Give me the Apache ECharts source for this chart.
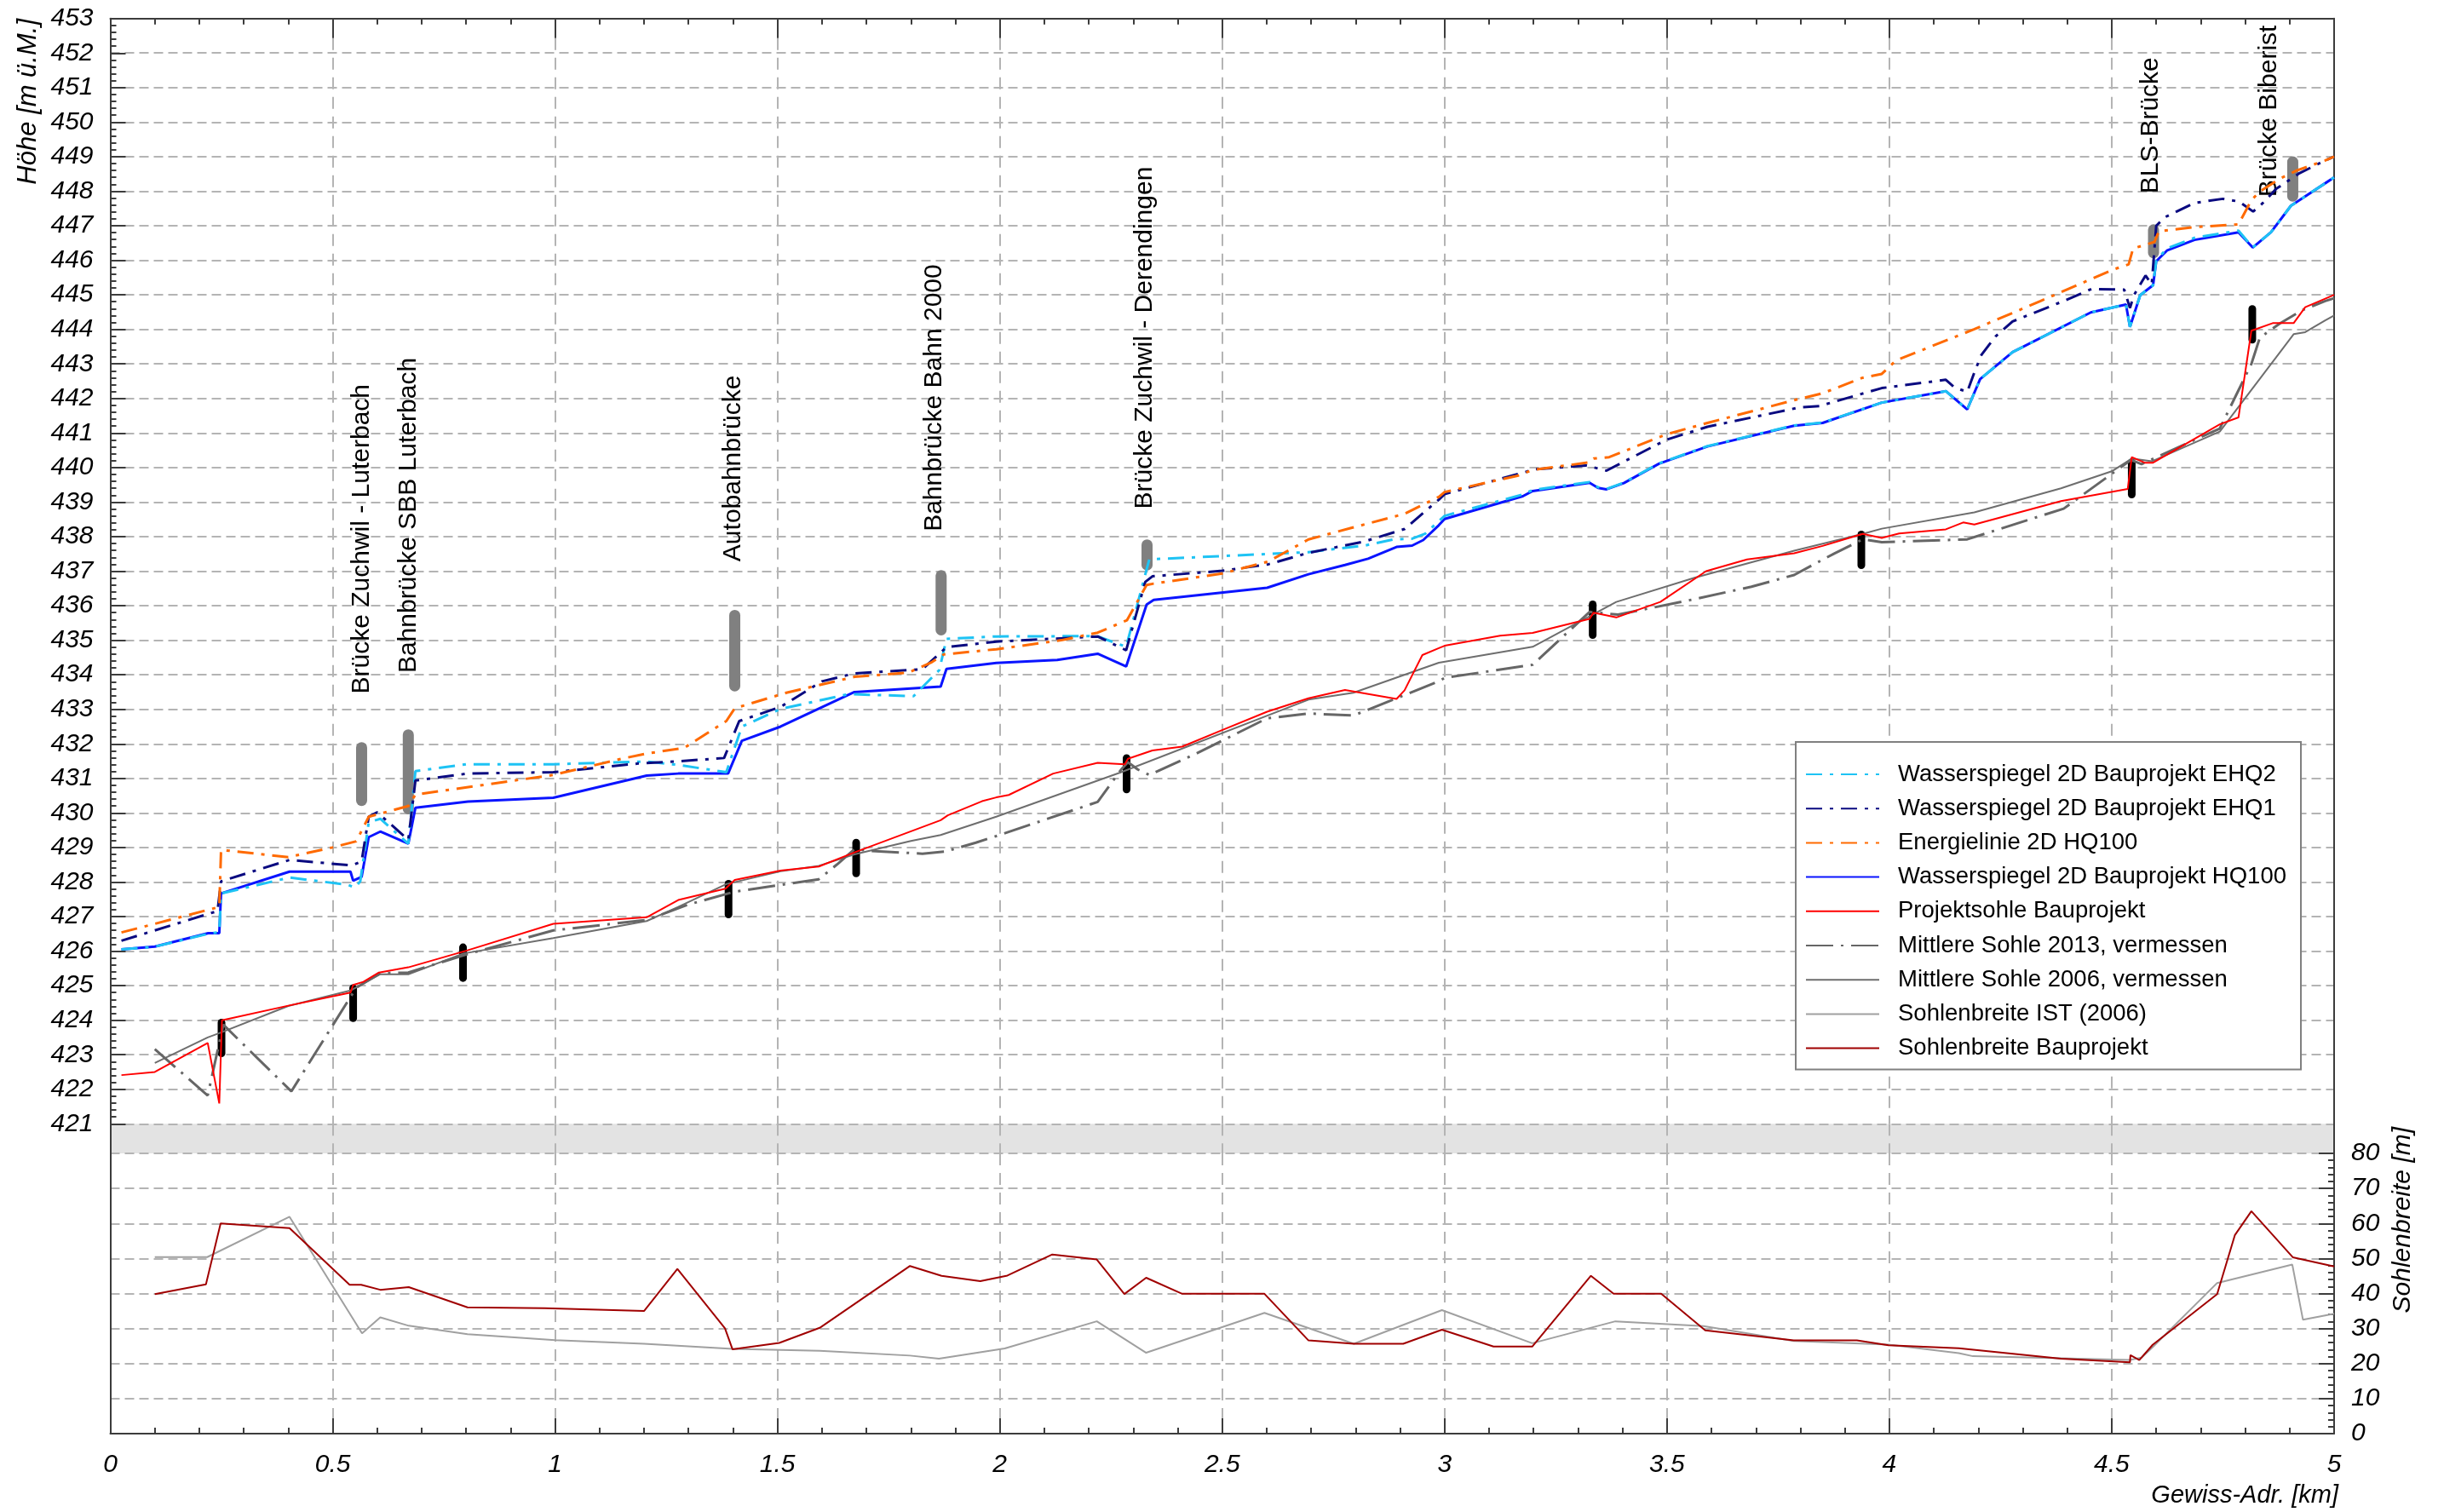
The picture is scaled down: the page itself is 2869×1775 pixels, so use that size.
<!DOCTYPE html>
<html>
<head>
<meta charset="utf-8">
<script src="https://cdn.jsdelivr.net/npm/echarts@6/dist/echarts.min.js"></script>
<style>
html,body{margin:0;padding:0;background:#fff;}
#chart{width:2869px;height:1775px;}
</style>
</head>
<body>
<div id="chart"></div>
<script>
// ---------------- DATA (km, value) ----------------
const wsEHQ2 = [[0.025,426.05],[0.10,426.13],[0.22,426.5],[0.245,426.55],[0.249,427.67],[0.403,428.13],[0.534,427.92],[0.55,427.84],[0.562,428.02],[0.581,429.73],[0.607,429.83],[0.670,429.11],[0.686,431.21],[0.80,431.41],[0.996,431.41],[1.206,431.49],[1.277,431.39],[1.385,431.18],[1.42,432.50],[1.507,433.01],[1.66,433.44],[1.806,433.38],[1.864,434.14],[1.88,435.04],[1.992,435.11],[2.218,435.12],[2.284,434.81],[2.336,437.34],[2.623,437.51],[2.694,437.55],[2.82,437.74],[2.885,437.92],[2.927,437.94],[2.956,438.08],[2.987,438.45],[3.0,438.6],[3.176,439.22],[3.198,439.35],[3.326,439.58],[3.345,439.43],[3.364,439.38],[3.403,439.56],[3.482,440.12],[3.591,440.62],[3.786,441.22],[3.85,441.30],[3.983,441.88],[4.127,442.21],[4.175,441.68],[4.204,442.56],[4.277,443.34],[4.453,444.49],[4.532,444.72],[4.541,444.07],[4.564,444.99],[4.593,445.28],[4.600,446.0],[4.625,446.35],[4.686,446.65],[4.785,446.86],[4.817,446.37],[4.858,446.81],[4.903,447.58],[4.922,447.74],[4.98,448.23],[5.0,448.4]];
const wsEHQ1 = [[0.025,426.30],[0.241,427.16],[0.249,428.02],[0.403,428.64],[0.543,428.48],[0.565,428.60],[0.581,429.89],[0.60,430.02],[0.670,429.22],[0.686,430.94],[0.804,431.14],[0.996,431.18],[1.187,431.43],[1.27,431.49],[1.38,431.59],[1.414,432.66],[1.507,433.07],[1.60,433.81],[1.673,434.04],[1.826,434.16],[1.88,434.80],[1.992,434.96],[2.22,435.11],[2.284,434.71],[2.327,436.69],[2.343,436.85],[2.5,437.01],[2.604,437.20],[2.694,437.53],[2.82,437.86],[2.91,438.22],[2.987,439.07],[3.0,439.23],[3.204,439.95],[3.318,440.06],[3.364,439.91],[3.498,440.80],[3.591,441.18],[3.798,441.74],[3.843,441.78],[3.983,442.30],[4.127,442.54],[4.146,442.32],[4.175,442.19],[4.194,442.85],[4.207,443.26],[4.239,443.80],[4.277,444.23],[4.392,444.82],[4.455,445.17],[4.528,445.15],[4.541,444.62],[4.55,444.99],[4.576,445.56],[4.59,445.3],[4.6,447.0],[4.62,447.25],[4.686,447.66],[4.75,447.78],[4.786,447.70],[4.818,447.41],[4.84,447.66],[4.87,448.07],[4.922,448.52],[4.98,448.89],[5.0,449.0]];
const energieHQ100 = [[0.025,426.54],[0.10,426.79],[0.245,427.28],[0.249,428.93],[0.40,428.72],[0.499,429.0],[0.553,429.18],[0.581,429.89],[0.670,430.20],[0.686,430.53],[0.996,431.10],[1.143,431.55],[1.206,431.72],[1.29,431.88],[1.385,432.66],[1.404,433.03],[1.52,433.48],[1.673,433.94],[1.794,434.06],[1.845,434.35],[1.874,434.59],[1.992,434.74],[2.138,435.0],[2.22,435.22],[2.286,435.58],[2.33,436.60],[2.346,436.64],[2.5,436.93],[2.604,437.28],[2.694,437.92],[2.79,438.25],[2.91,438.66],[2.987,439.15],[3.0,439.29],[3.166,439.77],[3.198,439.93],[3.326,440.15],[3.335,440.26],[3.37,440.30],[3.498,440.96],[3.591,441.29],[3.786,441.95],[3.85,442.15],[3.94,442.60],[3.983,442.71],[4.015,443.10],[4.19,444.0],[4.34,444.82],[4.503,445.73],[4.538,445.88],[4.548,446.34],[4.596,446.53],[4.606,446.84],[4.686,446.96],[4.785,447.04],[4.814,447.74],[4.833,447.99],[4.878,448.36],[4.916,448.60],[4.98,448.89],[5.0,449.0]];
const wsHQ100 = [[0.025,426.05],[0.10,426.13],[0.22,426.52],[0.245,426.52],[0.249,427.67],[0.403,428.30],[0.54,428.30],[0.546,428.04],[0.565,428.15],[0.581,429.30],[0.607,429.46],[0.670,429.11],[0.686,430.15],[0.804,430.33],[0.996,430.44],[1.206,431.08],[1.277,431.14],[1.389,431.14],[1.42,432.09],[1.507,432.50],[1.673,433.50],[1.867,433.66],[1.880,434.17],[1.992,434.34],[2.129,434.43],[2.22,434.61],[2.284,434.24],[2.33,436.03],[2.346,436.17],[2.601,436.52],[2.694,436.91],[2.776,437.18],[2.828,437.36],[2.892,437.70],[2.927,437.74],[2.952,437.90],[2.987,438.33],[3.0,438.51],[3.176,439.17],[3.198,439.32],[3.326,439.56],[3.345,439.41],[3.364,439.37],[3.403,439.55],[3.482,440.11],[3.591,440.61],[3.786,441.21],[3.85,441.29],[3.983,441.88],[4.127,442.21],[4.175,441.68],[4.204,442.56],[4.277,443.34],[4.453,444.49],[4.532,444.72],[4.541,444.07],[4.564,444.99],[4.593,445.28],[4.600,445.97],[4.625,446.29],[4.686,446.59],[4.785,446.81],[4.817,446.37],[4.858,446.81],[4.903,447.58],[4.922,447.74],[4.98,448.23],[5.0,448.4]];
const projektsohle = [[0.025,422.41],[0.10,422.50],[0.219,423.34],[0.245,421.59],[0.251,424.0],[0.40,424.42],[0.54,424.80],[0.546,425.02],[0.569,425.11],[0.604,425.38],[0.670,425.53],[0.80,426.01],[0.996,426.79],[1.206,426.98],[1.277,427.48],[1.383,427.81],[1.404,428.06],[1.507,428.33],[1.593,428.45],[1.676,428.87],[1.867,429.79],[1.883,429.93],[1.96,430.34],[1.992,430.45],[2.02,430.52],[2.12,431.14],[2.22,431.45],[2.281,431.41],[2.288,431.57],[2.343,431.81],[2.41,431.92],[2.502,432.41],[2.601,432.93],[2.694,433.32],[2.776,433.56],[2.892,433.30],[2.91,433.55],[2.95,434.57],[2.987,434.77],[3.0,434.84],[3.125,435.13],[3.198,435.21],[3.326,435.62],[3.335,435.80],[3.386,435.66],[3.485,436.11],[3.588,437.0],[3.68,437.34],[3.786,437.52],[3.85,437.73],[3.94,438.08],[3.983,437.96],[4.022,438.09],[4.127,438.21],[4.166,438.41],[4.191,438.35],[4.386,439.03],[4.536,439.38],[4.545,440.30],[4.574,440.14],[4.593,440.14],[4.743,441.25],[4.785,441.45],[4.814,443.96],[4.862,444.18],[4.909,444.18],[4.935,444.64],[4.98,444.89],[5.0,445.0]];
const sohle2013 = [[0.10,423.16],[0.219,421.82],[0.254,423.87],[0.407,421.94],[0.553,424.94],[0.607,425.36],[0.670,425.38],[0.80,425.9],[0.996,426.6],[1.206,426.9],[1.30,427.35],[1.404,427.72],[1.593,428.08],[1.634,428.51],[1.673,428.95],[1.71,428.9],[1.826,428.82],[1.876,428.88],[1.946,429.14],[1.992,429.33],[2.22,430.32],[2.273,431.26],[2.288,431.47],[2.31,431.26],[2.336,431.10],[2.44,431.71],[2.601,432.74],[2.694,432.88],[2.795,432.82],[2.892,433.32],[2.987,433.81],[3.0,433.91],[3.198,434.29],[3.326,435.82],[3.39,435.74],[3.562,436.19],[3.69,436.55],[3.786,436.89],[3.876,437.51],[3.94,437.92],[3.983,437.84],[4.175,437.92],[4.392,438.81],[4.495,439.77],[4.543,440.22],[4.567,440.10],[4.743,441.13],[4.814,443.0],[4.833,443.76],[4.878,444.17],[4.929,444.56],[4.98,444.82],[5.0,444.9]];
const sohle2006 = [[0.10,422.76],[0.219,423.50],[0.25,423.65],[0.40,424.41],[0.54,424.86],[0.607,425.33],[0.670,425.33],[0.794,425.93],[0.996,426.38],[1.206,426.87],[1.277,427.28],[1.385,427.94],[1.507,428.31],[1.593,428.47],[1.673,428.80],[1.80,429.19],[1.867,429.36],[1.992,429.89],[2.273,431.18],[2.694,433.28],[2.795,433.48],[2.987,434.35],[3.198,434.81],[3.386,436.11],[3.562,436.81],[3.786,437.59],[3.94,438.08],[3.983,438.23],[4.191,438.70],[4.386,439.40],[4.50,439.89],[4.545,440.26],[4.59,440.18],[4.743,441.04],[4.909,443.86],[4.935,443.92],[4.98,444.26],[5.0,444.4]];
const breiteIST = [[0.10,50.4],[0.218,50.4],[0.403,61.9],[0.566,28.65],[0.607,33.2],[0.671,30.8],[0.803,28.4],[1.0,26.7],[1.20,25.65],[1.399,24.2],[1.595,23.65],[1.798,22.28],[1.863,21.4],[2.011,24.3],[2.218,32.06],[2.329,23.09],[2.595,34.47],[2.796,25.65],[2.994,35.27],[3.197,25.81],[3.384,32.06],[3.582,30.7],[3.785,26.45],[3.998,25.41],[4.156,23.0],[4.188,22.1],[4.541,21.05],[4.567,21.7],[4.592,24.7],[4.737,43.0],[4.906,48.25],[4.93,32.5],[5.0,34.2]];
const breiteProjekt = [[0.10,39.8],[0.215,42.6],[0.248,60.0],[0.403,58.65],[0.538,42.5],[0.564,42.5],[0.607,41.06],[0.671,41.83],[0.803,36.06],[0.977,35.8],[1.20,35.0],[1.275,47.05],[1.382,30.06],[1.399,24.05],[1.504,25.9],[1.595,30.2],[1.798,47.86],[1.869,45.05],[1.956,43.53],[2.017,45.13],[2.118,51.14],[2.218,49.70],[2.280,39.84],[2.329,44.49],[2.410,39.92],[2.595,39.92],[2.694,26.61],[2.796,25.65],[2.907,25.65],[2.994,29.66],[3.11,24.85],[3.197,24.85],[3.329,45.05],[3.38,39.92],[3.487,39.92],[3.586,29.5],[3.785,26.61],[3.927,26.61],[3.998,25.25],[4.156,24.4],[4.386,21.4],[4.541,20.35],[4.542,22.4],[4.562,21.0],[4.592,25.35],[4.737,39.8],[4.777,56.7],[4.814,63.5],[4.907,50.35],[5.0,47.7]];

// bridges (grey bars) and labels
const bridgeNames = ['Brücke Zuchwil - Luterbach','Bahnbrücke SBB Luterbach','Autobahnbrücke','Bahnbrücke Bahn 2000','Brücke Zuchwil - Derendingen','BLS-Brücke','Brücke Biberist'];
const bridgeKm = [0.565, 0.670, 1.404, 1.868, 2.331, 4.594, 4.907];
const bridgeBottom = [430.36, 430.12, 433.68, 435.30, 437.18, 446.22, 447.86];
const bridgeTop = [431.89, 432.26, 435.72, 436.87, 437.76, 446.88, 448.85];
const bridgeLabelKm = [0.566, 0.670, 1.400, 1.853, 2.325, 4.588, 4.853];
const bridgeLabelAt = [433.45, 434.05, 437.28, 438.15, 438.80, 447.93, 447.83];

// sills (black bars)
const sillKm = [0.25, 0.546, 0.793, 1.39, 1.677, 2.285, 3.333, 3.937, 4.545, 4.816];
const sillBottom = [423.04, 424.06, 425.22, 427.06, 428.25, 430.68, 435.15, 437.17, 439.22, 443.70];
const sillTop = [423.93, 424.93, 426.11, 427.95, 429.14, 431.59, 436.04, 438.06, 440.15, 444.59];

// axis ranges
const kmRange = [0, 5];
const hoeheRange = [421, 453];
const breiteRange = [0, 80];

// ---------------- CHART ----------------
const chart = echarts.init(document.getElementById('chart'), null, {renderer:'canvas'});
const AX = '#3c3c3c';
const hDash = {color:'#b4b4b4', width:2, type:[11,6]};
const vDash = {color:'#b4b4b4', width:2, type:[14,9]};
const labelFont = {fontFamily:'"Liberation Sans", Arial, sans-serif', fontStyle:'italic', fontSize:30, color:'#000'};
const L = 129.5, W = 2610.5;

function barRender(color, width){
  return function(params, api){
    const a = api.coord([api.value(0), api.value(1)]);
    const b = api.coord([api.value(0), api.value(2)]);
    return {type:'line', shape:{x1:a[0], y1:a[1], x2:b[0], y2:b[1]}, style:{stroke:color, lineWidth:width, lineCap:'round'}};
  };
}

const option = {
  animation:false,
  backgroundColor:'#fff',
  grid:[
    {left:L, width:W, top:21.7, height:1297.6, show:false},
    {left:L, width:W, top:1319.3, height:34.7, show:true, backgroundColor:'#e3e3e3', borderWidth:0},
    {left:L, width:W, top:1354, height:329, show:false}
  ],
  xAxis:[
    {gridIndex:0, type:'value', min:kmRange[0], max:kmRange[1], interval:0.5, position:'top',
     axisLine:{show:true, onZero:false, lineStyle:{color:AX, width:2}},
     axisTick:{show:true, inside:true, length:23, lineStyle:{color:AX, width:2}},
     minorTick:{show:true, splitNumber:5, length:7, lineStyle:{color:AX, width:2}},
     axisLabel:{show:false}, splitLine:{show:true, lineStyle:vDash}},
    {gridIndex:1, type:'value', min:kmRange[0], max:kmRange[1], interval:0.5,
     axisLine:{show:false}, axisTick:{show:false}, axisLabel:{show:false}, splitLine:{show:true, lineStyle:vDash}},
    {gridIndex:2, type:'value', min:kmRange[0], max:kmRange[1], interval:0.5, position:'bottom',
     axisLine:{show:true, onZero:false, lineStyle:{color:AX, width:2}},
     axisTick:{show:true, inside:true, length:18, lineStyle:{color:AX, width:2}},
     minorTick:{show:true, splitNumber:5, length:7, lineStyle:{color:AX, width:2}},
     axisLabel:Object.assign({margin:22}, labelFont), splitLine:{show:true, lineStyle:vDash}}
  ],
  yAxis:[
    {gridIndex:0, type:'value', position:'left', min:hoeheRange[0], max:hoeheRange[1], interval:1,
     axisLine:{show:true, onZero:false, lineStyle:{color:AX, width:2}},
     axisTick:{show:true, inside:true, length:18, lineStyle:{color:AX, width:2}},
     minorTick:{show:true, splitNumber:5, length:7, lineStyle:{color:AX, width:2}},
     axisLabel:Object.assign({margin:20}, labelFont), splitLine:{show:true, lineStyle:hDash}},
    {gridIndex:0, type:'value', position:'right', min:hoeheRange[0], max:hoeheRange[1],
     axisLine:{show:true, onZero:false, lineStyle:{color:AX, width:2}}, axisTick:{show:false}, axisLabel:{show:false}, splitLine:{show:false}},
    {gridIndex:1, type:'value', position:'left', min:0, max:1,
     axisLine:{show:true, onZero:false, lineStyle:{color:AX, width:2}}, axisTick:{show:false}, axisLabel:{show:false}, splitLine:{show:false}},
    {gridIndex:1, type:'value', position:'right', min:0, max:1,
     axisLine:{show:true, onZero:false, lineStyle:{color:AX, width:2}}, axisTick:{show:false}, axisLabel:{show:false}, splitLine:{show:false}},
    {gridIndex:2, type:'value', position:'left', min:breiteRange[0], max:breiteRange[1],
     axisLine:{show:true, onZero:false, lineStyle:{color:AX, width:2}}, axisTick:{show:false}, axisLabel:{show:false}, splitLine:{show:false}},
    {gridIndex:2, type:'value', position:'right', min:breiteRange[0], max:breiteRange[1], interval:10,
     axisLine:{show:true, onZero:false, lineStyle:{color:AX, width:2}},
     axisTick:{show:true, inside:true, length:18, lineStyle:{color:AX, width:2}},
     minorTick:{show:true, splitNumber:5, length:7, lineStyle:{color:AX, width:2}},
     axisLabel:Object.assign({margin:20}, labelFont), splitLine:{show:true, lineStyle:hDash}}
  ],
  legend:{
    orient:'vertical', left:2108, top:871,
    padding:[21,17,8,11],
    backgroundColor:'#fff', borderColor:'#808080', borderWidth:2,
    itemWidth:86, itemHeight:20, itemGap:6.2,
    itemStyle:{opacity:0},
    lineStyle:{opacity:1},
    textStyle:{fontFamily:'"Liberation Sans", Arial, sans-serif', fontSize:27.5, lineHeight:34, color:'#000', padding:[0,0,0,17]},
    data:['Wasserspiegel 2D Bauprojekt EHQ2','Wasserspiegel 2D Bauprojekt EHQ1','Energielinie 2D HQ100','Wasserspiegel 2D Bauprojekt HQ100','Projektsohle Bauprojekt','Mittlere Sohle 2013, vermessen','Mittlere Sohle 2006, vermessen','Sohlenbreite IST (2006)','Sohlenbreite Bauprojekt']
  },
  graphic:[
    {type:'text', x:33, y:22, rotation:Math.PI/2, z:10,
     style:{text:'Höhe [m ü.M.]', fill:'#000', font:'italic 31px "Liberation Sans", Arial, sans-serif', align:'right', verticalAlign:'middle', textAlign:'right', textVerticalAlign:'middle'}},
    {type:'text', x:2821, y:1323, rotation:Math.PI/2, z:10,
     style:{text:'Sohlenbreite [m]', fill:'#000', font:'italic 30px "Liberation Sans", Arial, sans-serif', align:'right', verticalAlign:'middle', textAlign:'right', textVerticalAlign:'middle'}},
    {type:'text', x:2745, y:1756, z:10,
     style:{text:'Gewiss-Adr. [km]', fill:'#000', font:'italic 29px "Liberation Sans", Arial, sans-serif', align:'right', verticalAlign:'middle', textAlign:'right', textVerticalAlign:'middle'}}
  ],
  series:[
    {type:'custom', name:'bridges', xAxisIndex:0, yAxisIndex:0, z:1, silent:true,
     data:bridgeKm.map((k,i)=>[k, bridgeBottom[i], bridgeTop[i]]), renderItem:barRender('#808080',13)},
    {type:'custom', name:'sills', xAxisIndex:0, yAxisIndex:0, z:1, silent:true,
     data:sillKm.map((k,i)=>[k, sillBottom[i], sillTop[i]]), renderItem:barRender('#000000',9)},
    {type:'custom', name:'bridgeLabels', xAxisIndex:0, yAxisIndex:0, z:1, silent:true,
     data:bridgeLabelKm.map((k,i)=>[k, bridgeLabelAt[i]]),
     renderItem:function(params, api){
       const p = api.coord([api.value(0), api.value(1)]);
       return {type:'text', x:p[0], y:p[1], rotation:Math.PI/2,
         style:{text:bridgeNames[params.dataIndex], fill:'#000', font:'30px "Liberation Sans", Arial, sans-serif', align:'left', verticalAlign:'middle', textAlign:'left', textVerticalAlign:'middle'}};
     }},
    {type:'line', name:'Mittlere Sohle 2006, vermessen', xAxisIndex:0, yAxisIndex:0, data:sohle2006, showSymbol:false, symbol:'none',
     lineStyle:{color:'#6e6e6e', width:2}, itemStyle:{color:'#6e6e6e'}},
    {type:'line', name:'Mittlere Sohle 2013, vermessen', xAxisIndex:0, yAxisIndex:0, data:sohle2013, showSymbol:false, symbol:'none',
     lineStyle:{color:'#666666', width:3, type:[32,9,3,9]}, itemStyle:{color:'#666666'}},
    {type:'line', name:'Projektsohle Bauprojekt', xAxisIndex:0, yAxisIndex:0, data:projektsohle, showSymbol:false, symbol:'none',
     lineStyle:{color:'#ff0000', width:2}, itemStyle:{color:'#ff0000'}},
    {type:'line', name:'Wasserspiegel 2D Bauprojekt HQ100', xAxisIndex:0, yAxisIndex:0, data:wsHQ100, showSymbol:false, symbol:'none',
     lineStyle:{color:'#0a14ff', width:3}, itemStyle:{color:'#0a14ff'}},
    {type:'line', name:'Wasserspiegel 2D Bauprojekt EHQ2', xAxisIndex:0, yAxisIndex:0, data:wsEHQ2, showSymbol:false, symbol:'none',
     lineStyle:{color:'#1ec3f4', width:3, type:[19,9,4,9]}, itemStyle:{color:'#1ec3f4'}},
    {type:'line', name:'Wasserspiegel 2D Bauprojekt EHQ1', xAxisIndex:0, yAxisIndex:0, data:wsEHQ1, showSymbol:false, symbol:'none',
     lineStyle:{color:'#0a0a80', width:3, type:[19,9,4,9]}, itemStyle:{color:'#0a0a80'}},
    {type:'line', name:'Energielinie 2D HQ100', xAxisIndex:0, yAxisIndex:0, data:energieHQ100, showSymbol:false, symbol:'none',
     lineStyle:{color:'#ff6a00', width:3, type:[19,9,4,9]}, itemStyle:{color:'#ff6a00'}},
    {type:'line', name:'Sohlenbreite IST (2006)', xAxisIndex:2, yAxisIndex:5, data:breiteIST, showSymbol:false, symbol:'none',
     lineStyle:{color:'#a0a0a0', width:2}, itemStyle:{color:'#a0a0a0'}},
    {type:'line', name:'Sohlenbreite Bauprojekt', xAxisIndex:2, yAxisIndex:5, data:breiteProjekt, showSymbol:false, symbol:'none',
     lineStyle:{color:'#a00000', width:2}, itemStyle:{color:'#a00000'}}
  ]
};
chart.setOption(option);
</script>
</body>
</html>
